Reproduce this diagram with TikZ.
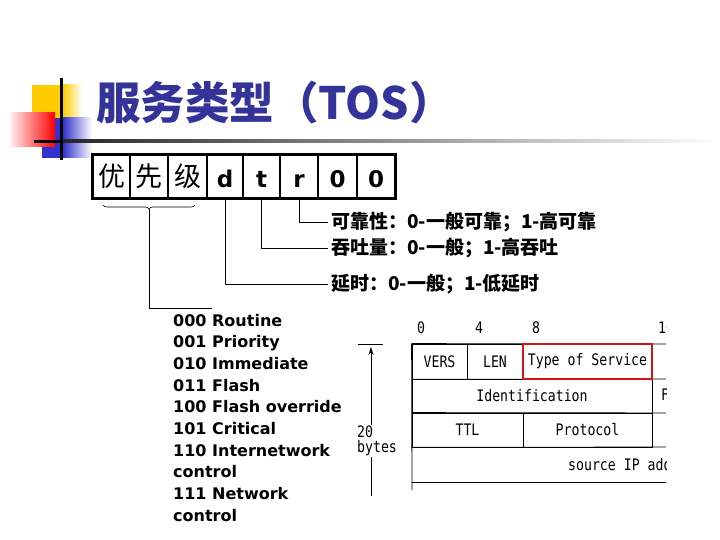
\documentclass[tikz,border=0pt]{standalone}
\usepackage{fontspec}
\usepackage{graphicx}
\setmainfont{DejaVu Sans}
\newfontfamily\cjk{Noto Sans CJK SC}
\newfontfamily\mono{DejaVu Sans Mono}
\usetikzlibrary{decorations.pathreplacing,arrows.meta}
\newcommand\myfs[1]{\fontsize{#1}{#1}\selectfont}
\newcommand\tallmono[1]{\scalebox{1}[1.2]{#1}}
\definecolor{titleblue}{RGB}{51,51,153}
\definecolor{decoyellow}{RGB}{255,204,0}
\definecolor{decoblue}{RGB}{51,51,204}
\definecolor{tosred}{RGB}{210,20,20}
\begin{document}
\begin{tikzpicture}[x=1pt,y=-1pt,
  cell/.style={draw=black, line width=1.5pt, minimum height=43pt, inner sep=0pt, anchor=center},
  cjkcell/.style={cell, font=\cjk\myfs{27}},
  bitcell/.style={cell, font=\bfseries\myfs{23}, text height=23pt, text depth=0pt},
  lab/.style={anchor=west, inner sep=3pt, font=\cjk\bfseries\myfs{19}},
  lst/.style={anchor=base west, inner sep=0pt, font=\bfseries\myfs{16}},
  ipcell/.style={draw=black, line width=0.8pt, inner sep=0pt, font=\mono\myfs{13.2}},
  iptxt/.style={inner sep=0pt, font=\mono\myfs{13.2}},
  conn/.style={draw=black, line width=0.8pt}
]
\useasboundingbox (0,0) rectangle (720,540);
\fill[white] (0,0) rectangle (720,540);

% decorative bullet
\fill[decoyellow] (32,85) rectangle (63,118);
\shade[left color=decoyellow, right color=white] (63,85) rectangle (82,118);
\fill[decoblue] (42,118) rectangle (63,158);
\shade[left color=decoblue, right color=white] (63,118) rectangle (92,158);
\shade[left color=red!6, right color=red] (10,113) rectangle (55,147);
\fill[black] (60,78) rectangle (63,160);
\fill[black] (34,140) rectangle (63,143);
\shade[left color=black!85, right color=white] (63,140) rectangle (720,142.5);

% title
\node[anchor=west, inner sep=0pt, font=\cjk\bfseries\myfs{44.5}, text=titleblue] (title) at (96,103) {服务类型（TOS）};

% TOS byte
\node[cjkcell, minimum width=37pt] (c1) at (111.5,176.5) {优};
\node[cjkcell, minimum width=38pt] (c2) at (149,176.5) {先};
\node[cjkcell, minimum width=39pt] (c3) at (187.5,176.5) {级};
\node[bitcell, minimum width=36pt] (c4) at (225,176.5) {d};
\node[bitcell, minimum width=37pt] (c5) at (261.5,176.5) {t};
\node[bitcell, minimum width=38pt] (c6) at (299,176.5) {r};
\node[bitcell, minimum width=39pt] (c7) at (337.5,176.5) {0};
\node[bitcell, minimum width=38pt] (c8) at (376,176.5) {0};
\draw[line width=2.5pt] (c1.north west) rectangle (c8.south east);

% labels
\node[lab] (rl) at (328,222) {可靠性：0-一般可靠；1-高可靠};
\node[lab] (tl) at (328,248) {吞吐量：0-一般；1-高吞吐};
\node[lab] (dl) at (328,284) {延时：0-一般；1-低延时};
\draw[conn] (c6.south) |- (rl.west);
\draw[conn] (c5.south) |- (tl.west);
\draw[conn] (c4.south) |- (dl.west);

% brace
\draw[decorate, decoration={brace, mirror, amplitude=4pt}, line width=0.6pt] (103,205) -- (195,205);
\coordinate (bt) at (149,209);
\coordinate (pe) at (212,308);
\draw[conn] (bt) |- (pe);

% precedence list
\foreach \t [count=\i] in {000 Routine, 001 Priority, 010 Immediate, 011 Flash, 100 Flash override, 101 Critical, 110 Internetwork, control, 111 Network, control}
  \node[lst] (l\i) at (173, 326+21.67*\i-21.67) {\t};

% IP header
\begin{scope}
\clip (340,312) rectangle (666,496);
\node[iptxt] (n0) at (421,328) {\tallmono{0}};
\node[iptxt] (n4) at (479,328) {\tallmono{4}};
\node[iptxt] (n8) at (536,328) {\tallmono{8}};
\node[iptxt, anchor=west] (n16) at (658,328) {\tallmono{16}};
\node[ipcell, minimum width=55pt, minimum height=35pt] (vers) at (439.5,361.5) {\tallmono{VERS}};
\node[ipcell, minimum width=56pt, minimum height=35pt] (len) at (495,361.5) {\tallmono{LEN}};
\node[ipcell, minimum width=240pt, minimum height=34pt] (ident) at (532,396) {\tallmono{Identification}};
\node[ipcell, minimum width=111pt, minimum height=34pt] (ttl) at (467.5,430) {\tallmono{TTL}};
\node[ipcell, minimum width=129pt, minimum height=34pt] (proto) at (587.5,430) {\tallmono{Protocol}};
\node[iptxt, anchor=west] (flags) at (661,396) {\tallmono{Flags}};
\node[iptxt, anchor=west] (src) at (568,465) {\tallmono{source IP address}};
\draw[conn] (vers.north west) -- (700,344);
\draw[conn] (vers.south west) -- (700,379);
\draw[conn] (ttl.north west) -- (700,413);
\draw[conn] (ttl.south west) -- (700,447);
\draw[conn] (412,482) -- (700,482);
\draw[conn] (vers.north west) -- (412,490);
\node[draw=tosred, line width=2.6pt, inner sep=0pt, minimum width=129pt, minimum height=35pt, font=\mono\myfs{13.2}, fill=white] (tos) at (587.5,361.5) {\tallmono{Type of Service}};
\coordinate (ab) at (371,496);
\coordinate (at) at (371,347);
\draw[conn, -{Stealth[length=8pt,width=5pt]}] (ab) -- (at);
\draw[conn] (358,344) -- (383,344);
\node[iptxt, anchor=west, fill=white, inner sep=1pt] (b20) at (356,432) {\tallmono{20}};
\node[iptxt, anchor=west, fill=white, inner sep=1pt] (bb) at (356,448) {\tallmono{bytes}};
\end{scope}
\end{tikzpicture}
\end{document}
